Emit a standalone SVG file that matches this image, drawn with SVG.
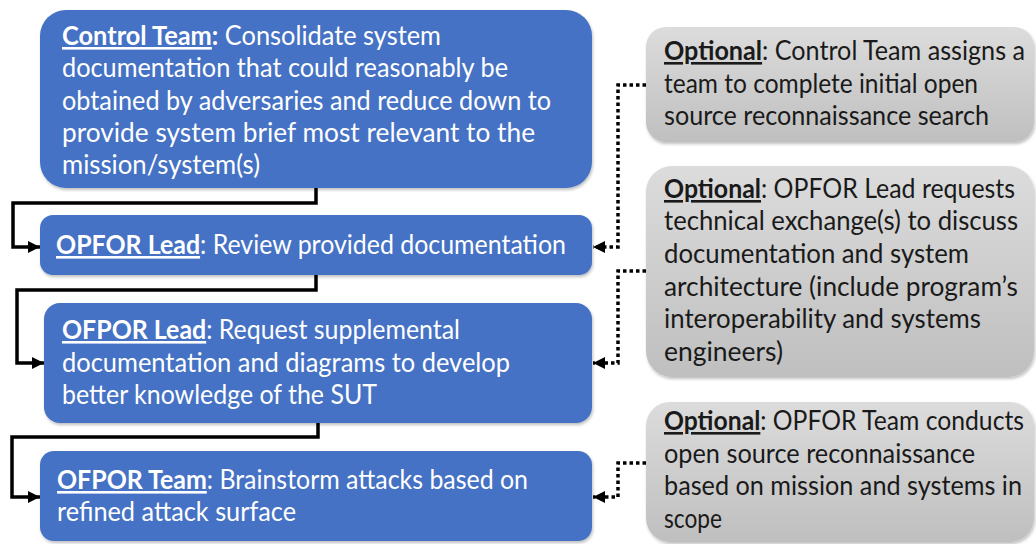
<svg xmlns="http://www.w3.org/2000/svg" width="1036" height="544" viewBox="0 0 1036 544">
<defs>
<style>
.blue{fill:#4472C4;}
.gray{fill:url(#gg);}
.wt{font-family:Lato,"Open Sans","Liberation Sans",sans-serif;font-size:26px;fill:#ffffff;}
.bt{font-family:Lato,"Open Sans","Liberation Sans",sans-serif;font-size:26px;fill:#1a1a1a;}
.b{font-weight:bold;}
.u{text-decoration:underline;}
.solid{fill:none;stroke:#000;stroke-width:3.5;marker-end:url(#ah);}
.dot{fill:none;stroke:#000;stroke-width:3.5;stroke-dasharray:3.5 3;marker-end:url(#ah);}
</style>
<linearGradient id="gg" x1="0" y1="0" x2="0" y2="1">
<stop offset="0" stop-color="#dcdcdc"/>
<stop offset="1" stop-color="#bfbfbf"/>
</linearGradient>
<filter id="sh" x="-5%" y="-5%" width="110%" height="115%">
<feDropShadow dx="1" dy="2" stdDeviation="1.5" flood-color="#000" flood-opacity="0.25"/>
</filter>
<marker id="ah" markerUnits="userSpaceOnUse" markerWidth="14" markerHeight="14" refX="12" refY="6" orient="auto">
<path d="M0,0 L12,6 L0,12 Z" fill="#000"/>
</marker>
</defs>

<g id="connectors">
<path class="solid" d="M316,188 V203 H13 V247 H40"/>
<path class="solid" d="M316,275 V290 H17 V363 H44"/>
<path class="solid" d="M318,423 V437 H12 V497 H40"/>
<path class="dot" d="M646,85 H618 V247 H593"/>
<path class="dot" d="M646,271 H618 V363 H593"/>
<path class="dot" d="M646,463 H618 V497 H593"/>
</g>

<g id="node-control-team">
<rect class="blue" x="40" y="10" width="552" height="178" rx="26" filter="url(#sh)"/>
<text class="wt" x="62" y="45" textLength="379" lengthAdjust="spacingAndGlyphs"><tspan class="b u">Control Team</tspan><tspan class="b">:</tspan> Consolidate system</text>
<text class="wt" x="62" y="77" textLength="446" lengthAdjust="spacingAndGlyphs">documentation that could reasonably be</text>
<text class="wt" x="62" y="110" textLength="489" lengthAdjust="spacingAndGlyphs">obtained by adversaries and reduce down to</text>
<text class="wt" x="62" y="142" textLength="473" lengthAdjust="spacingAndGlyphs">provide system brief most relevant to the</text>
<text class="wt" x="62" y="174" textLength="198" lengthAdjust="spacingAndGlyphs">mission/system(s)</text>
</g>

<g id="node-opfor-lead-review">
<rect class="blue" x="40" y="215" width="552" height="60" rx="13" filter="url(#sh)"/>
<text class="wt" x="56" y="254" textLength="510" lengthAdjust="spacingAndGlyphs"><tspan class="b u">OPFOR Lead</tspan>: Review provided documentation</text>
</g>

<g id="node-ofpor-lead-request">
<rect class="blue" x="44" y="303" width="548" height="120" rx="16" filter="url(#sh)"/>
<text class="wt" x="62" y="339" textLength="398" lengthAdjust="spacingAndGlyphs"><tspan class="b u">OFPOR Lead</tspan>: Request supplemental</text>
<text class="wt" x="62" y="372" textLength="448" lengthAdjust="spacingAndGlyphs">documentation and diagrams to develop</text>
<text class="wt" x="62" y="404" textLength="315" lengthAdjust="spacingAndGlyphs">better knowledge of the SUT</text>
</g>

<g id="node-ofpor-team">
<rect class="blue" x="40" y="451" width="552" height="90" rx="14" filter="url(#sh)"/>
<text class="wt" x="57" y="489" textLength="471" lengthAdjust="spacingAndGlyphs"><tspan class="b u">OFPOR Team</tspan>: Brainstorm attacks based on</text>
<text class="wt" x="57" y="521" textLength="239" lengthAdjust="spacingAndGlyphs">refined attack surface</text>
</g>

<g id="node-optional-1">
<rect class="gray" x="646" y="27" width="388" height="115" rx="20" filter="url(#sh)"/>
<text class="bt" x="664" y="60" textLength="361" lengthAdjust="spacingAndGlyphs"><tspan class="b u">Optional</tspan>: Control Team assigns a</text>
<text class="bt" x="664" y="93" textLength="314" lengthAdjust="spacingAndGlyphs">team to complete initial open</text>
<text class="bt" x="664" y="125" textLength="325" lengthAdjust="spacingAndGlyphs">source reconnaissance search</text>
</g>

<g id="node-optional-2">
<rect class="gray" x="646" y="166" width="388" height="211" rx="26" filter="url(#sh)"/>
<text class="bt" x="664" y="198" textLength="351" lengthAdjust="spacingAndGlyphs"><tspan class="b u">Optional</tspan>: OPFOR Lead requests</text>
<text class="bt" x="664" y="230" textLength="354" lengthAdjust="spacingAndGlyphs">technical exchange(s) to discuss</text>
<text class="bt" x="664" y="263" textLength="305" lengthAdjust="spacingAndGlyphs">documentation and system</text>
<text class="bt" x="664" y="296" textLength="354" lengthAdjust="spacingAndGlyphs">architecture (include program’s</text>
<text class="bt" x="664" y="328" textLength="317" lengthAdjust="spacingAndGlyphs">interoperability and systems</text>
<text class="bt" x="664" y="361" textLength="119" lengthAdjust="spacingAndGlyphs">engineers)</text>
</g>

<g id="node-optional-3">
<rect class="gray" x="646" y="402" width="388" height="140" rx="24" filter="url(#sh)"/>
<text class="bt" x="664" y="430" textLength="360" lengthAdjust="spacingAndGlyphs"><tspan class="b u">Optional</tspan>: OPFOR Team conducts</text>
<text class="bt" x="664" y="463" textLength="311" lengthAdjust="spacingAndGlyphs">open source reconnaissance</text>
<text class="bt" x="664" y="495" textLength="358" lengthAdjust="spacingAndGlyphs">based on mission and systems in</text>
<text class="bt" x="664" y="528" textLength="58" lengthAdjust="spacingAndGlyphs">scope</text>
</g>
</svg>
